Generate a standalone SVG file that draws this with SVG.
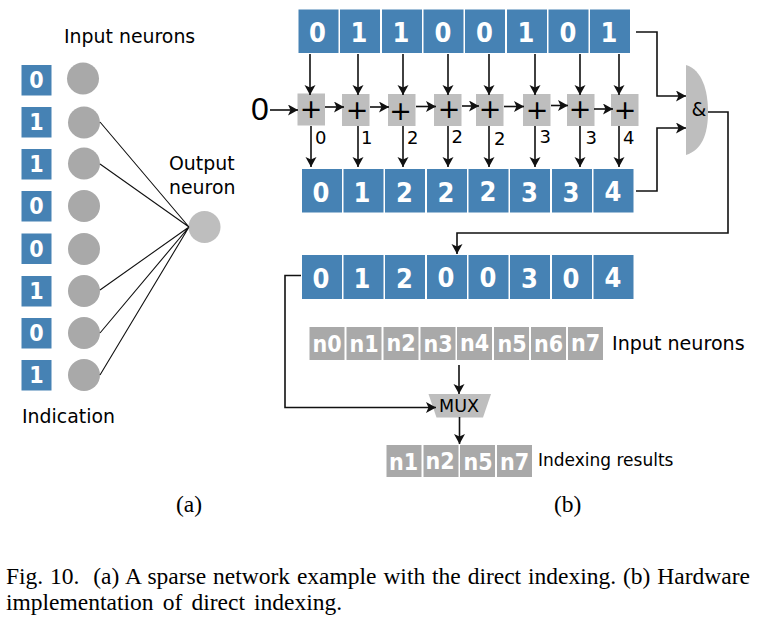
<svg xmlns="http://www.w3.org/2000/svg" width="758" height="621" viewBox="0 0 758 621">
<style>
text{font-family:"DejaVu Sans",sans-serif;fill:#000}
.b{fill:#4682b4}
.g{fill:#a9a9a9}
.l{fill:#bebebe}
.d{font-weight:bold;font-stretch:condensed;fill:#fff;text-anchor:middle;font-size:27px}
.s{font-weight:bold;font-stretch:condensed;fill:#fff;text-anchor:middle;font-size:23px}
.n{font-weight:bold;font-stretch:condensed;fill:#fff;text-anchor:middle;font-size:23px}
.p{font-size:27px;text-anchor:middle}
.c{font-size:18px}
.t{font-size:18.900px}
.cap{font-family:"Liberation Serif",serif;font-size:23.500px;white-space:pre}
.w{fill:none;stroke:#111;stroke-width:1.100}
.a{fill:none;stroke:#111;stroke-width:1.600;marker-end:url(#ah)}
</style>
<defs><marker id="ah" markerUnits="userSpaceOnUse" markerWidth="11" markerHeight="12" refX="10" refY="5.500" orient="auto"><path d="M0 0L10 5.500L0 11L2.500 5.500Z" fill="#111"/></marker></defs>
<g id="left-indication">
<rect class="b" x="21.500" y="65" width="30" height="30.500"/><text class="s" x="36.500" y="88">0</text>
<rect class="b" x="21.500" y="107" width="30" height="30.500"/><text class="s" x="36.500" y="130">1</text>
<rect class="b" x="21.500" y="149" width="30" height="30.500"/><text class="s" x="36.500" y="172">1</text>
<rect class="b" x="21.500" y="191" width="30" height="30.500"/><text class="s" x="36.500" y="214">0</text>
<rect class="b" x="21.500" y="233.500" width="30" height="30.500"/><text class="s" x="36.500" y="256.500">0</text>
<rect class="b" x="21.500" y="276" width="30" height="30.500"/><text class="s" x="36.500" y="299">1</text>
<rect class="b" x="21.500" y="318" width="30" height="30.500"/><text class="s" x="36.500" y="341">0</text>
<rect class="b" x="21.500" y="360" width="30" height="30.500"/><text class="s" x="36.500" y="383">1</text>
</g>
<g id="input-neurons">
<circle class="g" cx="83" cy="78.500" r="16"/><circle class="g" cx="84" cy="122.500" r="16"/><circle class="g" cx="84" cy="163.500" r="16"/><circle class="g" cx="84" cy="206" r="16"/><circle class="g" cx="84" cy="249" r="16"/><circle class="g" cx="84" cy="291" r="16"/><circle class="g" cx="84" cy="333" r="16"/><circle class="g" cx="84" cy="375" r="16"/>
<text class="t" x="64" y="43">Input neurons</text>
<text class="t" x="22" y="423">Indication</text>
</g>
<g id="output-neuron">
<circle class="l" cx="204.500" cy="227" r="16"/>
<text class="t" x="169" y="170">Output</text><text class="t" x="169" y="194">neuron</text>
</g>
<g id="top-register">
<rect class="b" x="298.500" y="9.500" width="40" height="43.500"/><text class="d" x="317.500" y="42">0</text>
<rect class="b" x="340" y="9.500" width="40" height="43.500"/><text class="d" x="359" y="42">1</text>
<rect class="b" x="382" y="9.500" width="40" height="43.500"/><text class="d" x="401" y="42">1</text>
<rect class="b" x="423.500" y="9.500" width="40" height="43.500"/><text class="d" x="443" y="42">0</text>
<rect class="b" x="465" y="9.500" width="40" height="43.500"/><text class="d" x="484.500" y="42">0</text>
<rect class="b" x="507" y="9.500" width="40" height="43.500"/><text class="d" x="526" y="42">1</text>
<rect class="b" x="548.500" y="9.500" width="40" height="43.500"/><text class="d" x="568" y="42">0</text>
<rect class="b" x="590" y="9.500" width="40" height="43.500"/><text class="d" x="609" y="42">1</text>
</g>
<g id="adders">
<text x="260" y="119.500" font-size="32" text-anchor="middle" style="font-family:'Liberation Sans',sans-serif">0</text>
<rect class="l" x="297.500" y="93.500" width="27.500" height="32"/><text class="p" x="311" y="118">+</text>
<rect class="l" x="342" y="94" width="27.500" height="32"/><text class="p" x="357" y="119">+</text>
<rect class="l" x="388" y="94" width="27.500" height="32"/><text class="p" x="400.500" y="119.500">+</text>
<rect class="l" x="434" y="94" width="27.500" height="32"/><text class="p" x="449" y="118">+</text>
<rect class="l" x="476" y="94" width="27.500" height="32"/><text class="p" x="490" y="118">+</text>
<rect class="l" x="523" y="94" width="27.500" height="32"/><text class="p" x="537" y="119">+</text>
<rect class="l" x="567" y="94" width="27.500" height="32"/><text class="p" x="580" y="118">+</text>
<rect class="l" x="611" y="94" width="27.500" height="32"/><text class="p" x="625" y="119">+</text>
<text class="c" x="315" y="144">0</text><text class="c" x="361" y="144">1</text><text class="c" x="407" y="144">2</text><text class="c" x="451.500" y="143">2</text><text class="c" x="494" y="145">2</text><text class="c" x="539.500" y="143">3</text><text class="c" x="585.500" y="144">3</text><text class="c" x="623" y="144">4</text>
</g>
<g id="sum-register">
<rect class="b" x="302" y="169" width="40" height="43.500"/><text class="d" x="321" y="202">0</text>
<rect class="b" x="343.500" y="169" width="40" height="43.500"/><text class="d" x="362" y="202">1</text>
<rect class="b" x="385" y="169" width="40" height="43.500"/><text class="d" x="404.500" y="202">2</text>
<rect class="b" x="427" y="169" width="40" height="43.500"/><text class="d" x="446" y="202">2</text>
<rect class="b" x="468.500" y="169" width="40" height="43.500"/><text class="d" x="488" y="201">2</text>
<rect class="b" x="510" y="169" width="40" height="43.500"/><text class="d" x="529.500" y="202">3</text>
<rect class="b" x="552" y="169" width="40" height="43.500"/><text class="d" x="571" y="202">3</text>
<rect class="b" x="593.500" y="169" width="40" height="43.500"/><text class="d" x="613" y="201">4</text>
</g>
<g id="and-gate">
<path class="l" d="M686 65C702 70 708 90 708 112C708 134 702 150 686 155Z"/>
<text x="699" y="116" font-size="19" text-anchor="middle">&amp;</text>
</g>
<g id="result-register">
<rect class="b" x="302" y="255" width="40" height="44"/><text class="d" x="321" y="288">0</text>
<rect class="b" x="343.500" y="255" width="40" height="44"/><text class="d" x="362" y="288">1</text>
<rect class="b" x="385" y="255" width="40" height="44"/><text class="d" x="404.500" y="288">2</text>
<rect class="b" x="427" y="255" width="40" height="44"/><text class="d" x="446" y="287">0</text>
<rect class="b" x="468.500" y="255" width="40" height="44"/><text class="d" x="488" y="287">0</text>
<rect class="b" x="510" y="255" width="40" height="44"/><text class="d" x="529.500" y="288">3</text>
<rect class="b" x="552" y="255" width="40" height="44"/><text class="d" x="571" y="288">0</text>
<rect class="b" x="593.500" y="255" width="40" height="44"/><text class="d" x="613" y="287">4</text>
</g>
<g id="input-row">
<rect class="g" x="309.500" y="327" width="35" height="33"/><text class="n" x="327" y="352">n0</text>
<rect class="g" x="346.500" y="327" width="35" height="33"/><text class="n" x="364" y="352">n1</text>
<rect class="g" x="383.500" y="327" width="35" height="33"/><text class="n" x="401" y="351">n2</text>
<rect class="g" x="420.500" y="327" width="35" height="33"/><text class="n" x="438" y="352">n3</text>
<rect class="g" x="457" y="327" width="35" height="33"/><text class="n" x="474.500" y="351">n4</text>
<rect class="g" x="494" y="327" width="35" height="33"/><text class="n" x="512" y="352">n5</text>
<rect class="g" x="531" y="327" width="35" height="33"/><text class="n" x="548.500" y="352">n6</text>
<rect class="g" x="568" y="327" width="35" height="33"/><text class="n" x="585.500" y="351">n7</text>
<text x="612" y="350" font-size="19.100">Input neurons</text>
</g>
<g id="mux">
<path class="l" d="M428.500 394H491L483 417.500H436.500Z"/>
<text x="459" y="412" font-size="17.500" text-anchor="middle">MUX</text>
</g>
<g id="indexing-results">
<rect class="g" x="386.500" y="445" width="35" height="32"/><text class="n" x="403.500" y="470">n1</text>
<rect class="g" x="423.500" y="445" width="35" height="32"/><text class="n" x="440" y="469">n2</text>
<rect class="g" x="460" y="445" width="35" height="32"/><text class="n" x="478" y="470">n5</text>
<rect class="g" x="497" y="445" width="35" height="32"/><text class="n" x="514.500" y="470">n7</text>
<text x="538" y="466" font-size="17">Indexing results</text>
</g>
<g id="captions">
<text class="cap" x="176" y="512">(a)</text>
<text class="cap" x="554" y="512">(b)</text>
<text class="cap" x="6" y="584" word-spacing="1">Fig. 10.  (a) A sparse network example with the direct indexing. (b) Hardware</text>
<text class="cap" x="6" y="610" word-spacing="3.300">implementation of direct indexing.</text>
</g>
<g id="connectors">
<path class="w" d="M100 122L189 227M100 164L189 227M100 290L189 227M100 333L189 227M100 375L189 227"/>
<path class="a" d="M310 54V95"/><path class="a" d="M358 54V95"/><path class="a" d="M403 54V95"/><path class="a" d="M448 54V95"/><path class="a" d="M489 54V95"/><path class="a" d="M535 54V95"/><path class="a" d="M580 54V95"/><path class="a" d="M619 54V95"/>
<path class="a" d="M311 126V167"/><path class="a" d="M358 126V167"/><path class="a" d="M403 126V167"/><path class="a" d="M448 126V167"/><path class="a" d="M489 126V167"/><path class="a" d="M535 126V167"/><path class="a" d="M580 126V167"/><path class="a" d="M619 126V167"/>
<path class="a" d="M270 110H298"/><path class="a" d="M325 107H344"/><path class="a" d="M370 107H389"/><path class="a" d="M416 106.500H436"/><path class="a" d="M462 106H479"/><path class="a" d="M504 106.500H524"/><path class="a" d="M551 105.500H568"/><path class="a" d="M594 109H613"/>
<path class="a" d="M636 32H657V96H686"/>
<path class="a" d="M636 191H657V128H686"/>
<path class="a" d="M708 112H728V233H457V254"/>
<path class="a" d="M301 275.500H285V407.500H436"/>
<path class="a" d="M459 365V394"/>
<path class="a" d="M459.500 417V444"/>
</g>
</svg>
